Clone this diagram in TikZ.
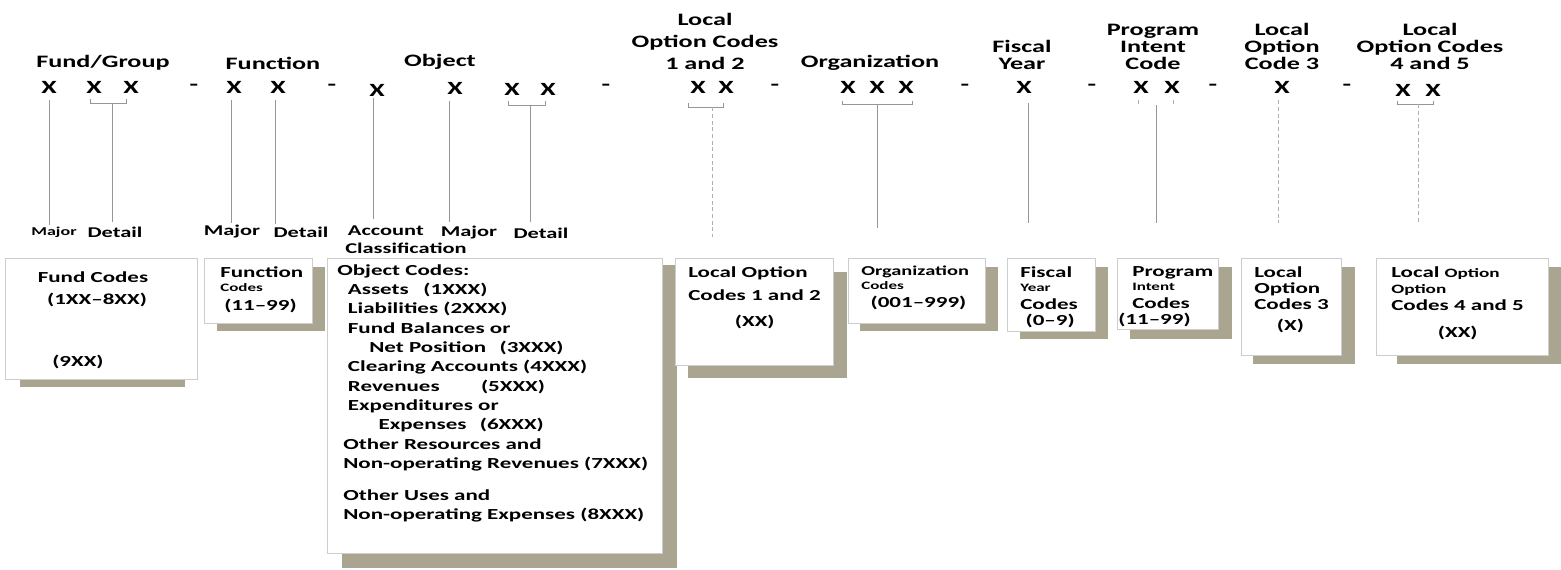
\documentclass[tikz,border=0pt]{standalone}
\usepackage{fontspec}
\setmainfont{Carlito}[FakeStretch=1.5]
\usetikzlibrary{positioning,fit,backgrounds,calc}
\definecolor{tieline}{RGB}{150,150,150}
\definecolor{boxedge}{RGB}{205,205,205}
\definecolor{shadowtan}{RGB}{170,165,145}

\begin{document}
\begin{tikzpicture}[
    x=0.75pt, y=-0.75pt,
    header/.style={font=\fontsize{13.1}{12.75}\selectfont\bfseries, align=center, inner sep=0pt, anchor=south},
    digit/.style={font=\fontsize{14}{14}\selectfont\bfseries, inner sep=0pt},
    part/.style={font=\fontsize{11.2}{12}\selectfont\bfseries, inner sep=0pt, align=left},
    codebox/.style={draw=boxedge, fill=white, inner sep=0pt},
    boxshadow/.style={fill=shadowtan},
    boxtext/.style={font=\fontsize{11.5}{14.5}\selectfont\bfseries, align=left, inner sep=0pt, anchor=north west},
    tie/.style={draw=tieline, line width=0.6pt},
    dashtie/.style={tie, dash pattern=on 3pt off 2pt, draw=tieline!75}
]
\useasboundingbox (0,0) rectangle (1561,570);

% headers
\node[header] (fghd) at (103,71) {Fund/Group};
\node[header] (fnhd) at (273,70) {Function};
\node[header] (obhd) at (440,70) {Object};
\node[header] (lohd) at (705,70) {Local\\[3.75pt]Option Codes\\[3.75pt]1 and 2};
\node[header] (orhd) at (870,71) {Organization};
\node[header] (fyhd) at (1022,70) {Fiscal\\Year};
\node[header] (pihd) at (1153,70) {Program\\Intent\\Code};
\node[header] (lc3hd) at (1282,70) {Local\\Option\\Code 3};
\node[header] (lfhd) at (1430,70) {Local\\Option Codes\\4 and 5};

% code digits
\node[digit] (fg1) at (49,87) {X};
\node[digit] (fg2) at (94,87) {X};
\node[digit] (fg3) at (131,87) {X};
\node[digit] (dash1) at (194,87) {-};
\node[digit] (fn1) at (234,87) {X};
\node[digit] (fn2) at (278,87) {X};
\node[digit] (dash2) at (332,87) {-};
\node[digit] (ob1) at (377,90) {X};
\node[digit] (ob2) at (455,88) {X};
\node[digit] (ob3) at (512,89) {X};
\node[digit] (ob4) at (548,89) {X};
\node[digit] (dash3) at (606,87) {-};
\node[digit] (lo1) at (698,87) {X};
\node[digit] (lo2) at (726,87) {X};
\node[digit] (dash4) at (775,87) {-};
\node[digit] (or1) at (848,87) {X};
\node[digit] (or2) at (877,87) {X};
\node[digit] (or3) at (906,87) {X};
\node[digit] (dash5) at (965,87) {-};
\node[digit] (fy) at (1024,87) {X};
\node[digit] (dash6) at (1092,87) {-};
\node[digit] (pi1) at (1141,87) {X};
\node[digit] (pi2) at (1172,87) {X};
\node[digit] (dash7) at (1213,87) {-};
\node[digit] (lc3) at (1282,87) {X};
\node[digit] (dash8) at (1347,87) {-};
\node[digit] (lf1) at (1403,90) {X};
\node[digit] (lf2) at (1433,90) {X};

% part labels
\node[part, font=\fontsize{9}{10}\selectfont\bfseries] (fgmaj) at (54,232) {Major};
\node[part] (fgdet) at (115,232) {Detail};
\node[part] (fnmaj) at (232,232) {Major};
\node[part] (fndet) at (301,232) {Detail};
\node[part, anchor=north west] (obacc) at (345,226) {\hspace*{2pt}Account\\[1pt]Classification};
\node[part] (obmaj) at (469,233) {Major};
\node[part] (obdet) at (541,233) {Detail};
\coordinate (tieend) at (0,223);
\coordinate (loend) at (0,237);

% brackets
\coordinate (fgmid) at ($(fg2.south)!0.5!(fg3.south)+(0,10)$);
\coordinate (obmid) at ($(ob3.south)!0.5!(ob4.south)+(0,10)$);
\coordinate (lomid) at ($(lo1.south)!0.5!(lo2.south)+(0,14)$);
\coordinate (ormid) at ($(or1.south)!0.5!(or3.south)+(0,11)$);
\coordinate (pimid) at ($(pi1.south)!0.5!(pi2.south)+(0,12)$);
\coordinate (lfmid) at ($(lf1.south)!0.5!(lf2.south)+(0,8)$);
\draw[tie] ([shift={(-4,6)}]fg2.south) -- ([shift={(-4,10)}]fg2.south) -- ([shift={(-5,10)}]fg3.south) -- ([shift={(-5,6)}]fg3.south);
\draw[tie] ([shift={(-4,6)}]ob3.south) -- ([shift={(-4,10)}]ob3.south) -- ([shift={(-3,10)}]ob4.south) -- ([shift={(-3,6)}]ob4.south);
\draw[tie] ([shift={(-10,10)}]lo1.south) -- ([shift={(-10,14)}]lo1.south) -- ([shift={(-3,14)}]lo2.south) -- ([shift={(-3,10)}]lo2.south);
\draw[tie] ([shift={(-6,8)}]or1.south) -- ([shift={(-6,11)}]or1.south) -- ([shift={(6,11)}]or3.south) -- ([shift={(6,8)}]or3.south);
\draw[dashtie] ([shift={(-3,7)}]pi1.south) -- ([shift={(-3,12)}]pi1.south);
\draw[dashtie] ([shift={(1,7)}]pi2.south) -- ([shift={(1,12)}]pi2.south);
\draw[tie] ([shift={(-6,5)}]lf1.south) -- ([shift={(-6,8)}]lf1.south) -- ([shift={(0,8)}]lf2.south) -- ([shift={(0,5)}]lf2.south);

% ties down to the parts
\draw[tie] ([yshift=-5pt]fg1.south) -- ([yshift=1pt]fg1 |- fgmaj.north);
\draw[tie] (fgmid) -- ([yshift=3pt]fgmid |- fgdet.north);
\draw[tie] ([shift={(-3,7)}]fn1.south) -- ([shift={(-3,0)},yshift=2pt]fn1 |- fnmaj.north);
\draw[tie] ([shift={(-3,7)}]fn2.south) -- ([shift={(-3,0)},yshift=2pt]fn2 |- fndet.north);
\draw[tie] ([shift={(-4,2)}]ob1.south) -- ([shift={(-4,0)},yshift=5pt]ob1 |- obacc.north);
\draw[tie] ([shift={(-6,7)}]ob2.south) -- ([shift={(-6,0)},yshift=3pt]ob2 |- obmaj.north);
\draw[tie] (obmid) -- ([yshift=4pt]obmid |- obdet.north);
\draw[dashtie] (lomid) -- (lomid |- loend);
\draw[tie] (ormid) -- ([yshift=-4pt]ormid |- tieend);
\draw[tie] ([shift={(4,10)}]fy.south) -- ([shift={(4,0)}]fy |- tieend);
\draw[tie] (pimid) -- (pimid |- tieend);
\draw[dashtie] ([shift={(-4,7)}]lc3.south) -- ([shift={(-4,0)}]lc3 |- tieend);
\draw[dashtie] (lfmid) -- (lfmid |- tieend);

% code boxes
\node[codebox, fit={(5,258) (197,379)}] (fundbox) {};
\node[codebox, fit={(204,258) (312,323)}] (funcbox) {};
\node[codebox, fit={(327,258) (662,553)}] (objbox) {};
\node[codebox, fit={(675,258) (833,365)}] (locbox) {};
\node[codebox, fit={(848,258) (985,323)}] (orgbox) {};
\node[codebox, fit={(1007,258) (1095,331)}] (fisbox) {};
\node[codebox, fit={(1117,258) (1218,329)}] (probox) {};
\node[codebox, fit={(1241,258) (1341,355)}] (lc3box) {};
\node[codebox, fit={(1376,258) (1548,355)}] (lfbox) {};

\begin{scope}[on background layer]
\fill[boxshadow] ([shift={(15,7)}]fundbox.north west) rectangle ([shift={(-12,8)}]fundbox.south east);
\fill[boxshadow] ([shift={(13,9)}]funcbox.north west) rectangle ([shift={(13,8)}]funcbox.south east);
\fill[boxshadow] ([shift={(15,7)}]objbox.north west) rectangle ([shift={(15,15)}]objbox.south east);
\fill[boxshadow] ([shift={(13,14)}]locbox.north west) rectangle ([shift={(14,13)}]locbox.south east);
\fill[boxshadow] ([shift={(12,9)}]orgbox.north west) rectangle ([shift={(13,8)}]orgbox.south east);
\fill[boxshadow] ([shift={(13,9)}]fisbox.north west) rectangle ([shift={(13,8)}]fisbox.south east);
\fill[boxshadow] ([shift={(13,9)}]probox.north west) rectangle ([shift={(14,10)}]probox.south east);
\fill[boxshadow] ([shift={(12,9)}]lc3box.north west) rectangle ([shift={(14,9)}]lc3box.south east);
\fill[boxshadow] ([shift={(21,9)}]lfbox.north west) rectangle ([shift={(13,9)}]lfbox.south east);
\end{scope}

% box texts
\node[boxtext, anchor=north, align=center] (fundtxt) at (93,271) {Fund Codes\\[2pt]\hspace*{6pt}(1XX–8XX)};
\node[boxtext] (fund9) at (52,355) {(9XX)};
\node[boxtext] (functxt) at (220,266) {Function\\[-4pt]{\fontsize{8.5}{10}\selectfont Codes}\\\hspace*{3pt}(11–99)};
\node[boxtext] (objtxt) at (337,264) {Object Codes:\\
  \hspace*{8pt}Assets\hspace{11pt}(1XXX)\\
  \hspace*{8pt}Liabilities (2XXX)\\
  \hspace*{8pt}Fund Balances or\\
  \hspace*{24pt}Net Position\hspace{10pt}(3XXX)\\
  \hspace*{8pt}Clearing Accounts (4XXX)\\
  \hspace*{8pt}Revenues\hspace{31pt}(5XXX)\\
  \hspace*{8pt}Expenditures or\\
  \hspace*{31pt}Expenses\hspace{10pt}(6XXX)\\
  \hspace*{4.5pt}Other Resources and\\
  \hspace*{4.5pt}Non-operating Revenues (7XXX)\\[9.5pt]
  \hspace*{4.5pt}Other Uses and\\
  \hspace*{4.5pt}Non-operating Expenses (8XXX)};
\node[boxtext] (loctxt) at (688,266) {Local Option\\[2.75pt]Codes 1 and 2\\[5pt]\hspace*{35pt}(XX)};
\node[boxtext] (orgtxt) at (861,266) {{\fontsize{10.2}{12}\selectfont Organization}\\[-4pt]{\fontsize{8.5}{10}\selectfont Codes}\\[-1pt]\hspace*{7pt}(001–999)};
\node[boxtext] (fistxt) at (1020,266) {Fiscal\\[-4pt]{\fontsize{8.5}{10}\selectfont Year}\\[-1pt]Codes\\[-2.5pt]\hspace*{4pt}(0–9)};
\node[boxtext] (protxt) at (1118,266) {\hspace*{10.5pt}Program\\[-4pt]\hspace*{10.5pt}{\fontsize{8.5}{10}\selectfont Intent}\\[-1pt]\hspace*{10.5pt}Codes\\[-2pt](11–99)};
\node[boxtext] (lc3txt) at (1254,266) {Local\\[-2.5pt]Option\\[-2.5pt]Codes 3\\[1.25pt]\hspace*{17pt}(X)};
\node[boxtext] (lftxt) at (1391,266) {Local {\fontsize{9.6}{12}\selectfont Option}\\[-2.5pt]{\fontsize{9.6}{12}\selectfont Option}\\[-1.75pt]Codes 4 and 5\\[5.75pt]\hspace*{35pt}(XX)};
\end{tikzpicture}
\end{document}
